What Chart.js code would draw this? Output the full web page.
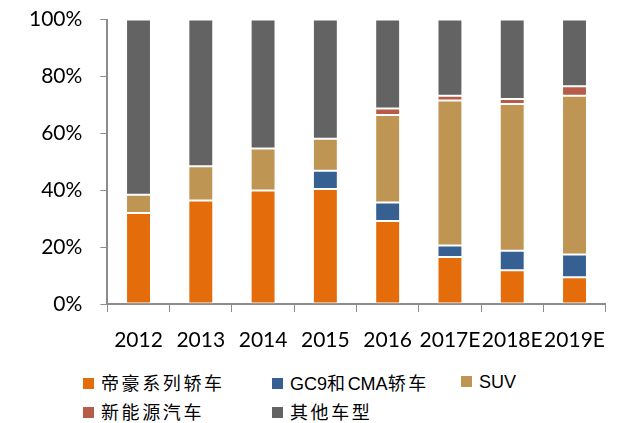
<!DOCTYPE html>
<html>
<head>
<meta charset="UTF-8" />
<title>车型结构占比</title>
<style type="text/css">
  body { margin: 0; background: #fff; overflow: hidden; }
  .chartBox { position: relative; width: 623px; height: 423px; overflow: hidden; }
  #chartWrap { position: absolute; left: 0; top: -9px; width: 623px; height: 378px; }
  #legend { position: absolute; left: 0; top: 371px; width: 623px; height: 52px;
            font-family: "Liberation Sans", "Noto Sans CJK SC", sans-serif; font-size: 18px; color: #000; }
  .item { position: absolute; white-space: nowrap; line-height: 22px; }
  .item span.box { display: inline-block; width: 11px; height: 11px; margin-right: 7px; vertical-align: 1px; }
  .item span.cjk { font-family: "Noto Sans CJK SC", sans-serif; letter-spacing: 2.6px; }
</style>
</head>
<body>
<div class="chartBox">
  <div id="chartWrap"><canvas id="myChart"></canvas></div>
  <div id="legend"></div>
</div>
<script src="https://cdn.jsdelivr.net/npm/chart.js"></script>
<script>
// categories
const years = ['2012', '2013', '2014', '2015', '2016', '2017E', '2018E', '2019E'];
// shares, % of total
const dihao  = [32.0, 36.4, 39.9, 40.4, 29.2, 16.5, 11.9, 9.4];   // 帝豪系列轿车
const gc9cma = [0, 0, 0, 6.4, 6.5, 4.1, 6.8, 8.0];                // GC9和CMA轿车
const suv    = [6.4, 12.0, 14.8, 11.3, 30.7, 50.9, 51.6, 55.8];   // SUV
const newEnergy = [0, 0, 0, 0, 2.3, 1.7, 1.8, 3.3];               // 新能源汽车
const others = years.map((y, i) => +(100 - dihao[i] - gc9cma[i] - suv[i] - newEnergy[i]).toFixed(1)); // 其他车型
const yTicks = [0, 20, 40, 60, 80, 100];

const series = [
  { label: '帝豪系列轿车', data: dihao, color: '#E46C0A' },
  { label: 'GC9和CMA轿车', data: gc9cma, color: '#376092' },
  { label: 'SUV', data: suv, color: '#BE9552' },
  { label: '新能源汽车', data: newEnergy, color: '#B65C48' },
  { label: '其他车型', data: others, color: '#636363' }
];

const data = {
  labels: years,
  datasets: series.map(s => ({
    label: s.label,
    data: s.data,
    backgroundColor: s.color,
    borderColor: 'rgba(255,255,255,0.45)',
    borderWidth: 1,
    borderSkipped: false,
    barPercentage: 0.4,
    categoryPercentage: 1.0
  }))
};

const axisColor = '#8c8c8c';
const tickFont = { family: 'Lato, "Liberation Sans", sans-serif', size: 21, lineHeight: 1.0 };

const config = {
  type: 'bar',
  data,
  options: {
    responsive: true,
    maintainAspectRatio: false,
    animation: false,
    layout: { padding: { top: 0, right: 1, left: 11, bottom: 0 } },
    plugins: {
      legend: { display: false },
      tooltip: { enabled: false }
    },
    scales: {
      x: {
        stacked: true,
        grid: { display: true, drawOnChartArea: false, offset: true, color: axisColor, tickLength: 8 },
        border: { color: axisColor, width: 2 },
        ticks: { color: '#000', font: tickFont, autoSkip: false, maxRotation: 0, padding: 18 }
      },
      y: {
        stacked: true,
        min: 0,
        max: 100,
        afterBuildTicks: axis => { axis.ticks = yTicks.map(v => ({ value: v })); },
        grid: { display: true, drawOnChartArea: false, color: axisColor, tickLength: 7 },
        border: { color: axisColor, width: 2 },
        ticks: { color: '#000', font: tickFont, padding: 18, callback: v => v + '%' }
      }
    }
  }
};

const myChart = new Chart(document.getElementById('myChart'), config);

// legend laid out in a grid like the original
const legendPos = [[83, 0], [272, 0], [461, 0], [83, 29], [272, 29]];
const legend = document.getElementById('legend');
series.forEach((s, i) => {
  const d = document.createElement('div');
  d.className = 'item';
  d.style.left = legendPos[i][0] + 'px';
  d.style.top = legendPos[i][1] + 'px';
  const text = s.label.replace(/([\u4e00-\u9fff]+)/g, '<span class="cjk">$1</span>');
  d.innerHTML = '<span class="box" style="background:' + s.color + '"></span>' + text;
  legend.appendChild(d);
});
</script>
</body>
</html>
